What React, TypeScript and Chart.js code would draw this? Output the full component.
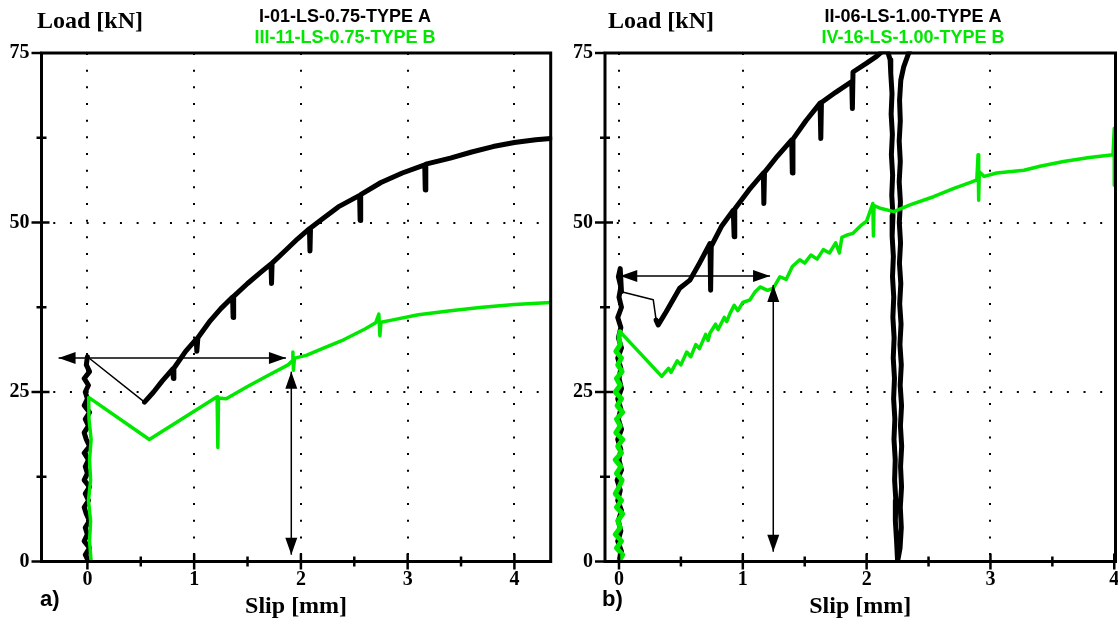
import React, { useEffect, useRef } from 'react';
import { Chart, registerables } from 'chart.js';

Chart.register(...registerables);

const GREEN = '#00e800';

// ---------- axes ----------
const xMajor = [0, 1, 2, 3, 4];
const xMinor = [0.5, 1.5, 2.5, 3.5];
const yMajor = [0, 25, 50, 75];
const yMinor = [12.5, 37.5, 62.5];
const xTickLabels = ['0', '1', '2', '3', '4'];
const yTickLabels = ['0', '25', '50', '75'];
const xTitle = 'Slip [mm]';
const yTitle = 'Load [kN]';

// ---------- panel a ----------
const aNames = ['I-01-LS-0.75-TYPE A', 'III-11-LS-0.75-TYPE B'];
const aBlackSlip = [
  0.01, -0.02, 0.02, -0.03, 0.0, -0.02, 0.02, -0.01, -0.03, 0.01, -0.02, 0.02, -0.03, 0.0, -0.02, 0.01,
  -0.03, 0.02, -0.01, -0.03, 0.01, -0.02, 0.02, -0.03, 0.0, -0.02, 0.01, -0.03, 0.02, -0.01, 0.0,
  0.535, 0.62, 0.7, 0.8, 0.805, 0.81, 0.92, 1.02, 1.025, 1.035, 1.15, 1.25, 1.36, 1.365, 1.37,
  1.5, 1.62, 1.72, 1.725, 1.73, 1.85, 1.97, 2.08, 2.085, 2.09, 2.2, 2.35, 2.55, 2.555, 2.56,
  2.75, 2.95, 3.16, 3.165, 3.17, 3.4, 3.6, 3.8, 4.0, 4.2, 4.34,
];
const aBlackLoad = [
  0, 1, 2, 3, 4, 5, 6, 7, 8, 9, 10, 11, 12, 13, 14, 15,
  16, 17, 18, 19, 20, 21, 22, 23, 24, 25, 26, 27, 28, 29, 30.2,
  23.5, 25.0, 26.6, 28.4, 27.0, 28.5, 31.0, 32.8, 31.0, 33.0, 35.5, 37.3, 39.0, 36.0, 39.1,
  41.0, 42.6, 43.9, 41.0, 44.0, 45.8, 47.6, 49.1, 45.8, 49.2, 50.5, 52.3, 54.0, 50.3, 54.1,
  55.9, 57.3, 58.5, 54.8, 58.6, 59.5, 60.4, 61.2, 61.8, 62.2, 62.4,
];
const aBlackThin = [30];
const aGreenSlip = [
  0.035, 0.02, 0.03, 0.01, 0.03, 0.02, 0.035, 0.015, 0.012,
  0.58, 1.215, 1.222, 1.228, 1.3, 1.5, 1.7, 1.88, 1.92, 1.925, 1.93, 1.94, 2.05,
  2.2, 2.4, 2.6, 2.7, 2.73, 2.74, 2.75, 2.85, 3.1, 3.4, 3.7, 4.0, 4.34,
];
const aGreenLoad = [
  0, 3, 6, 9, 12, 15, 18, 21, 24.2,
  18.0, 24.3, 16.8, 24.1, 24.0, 25.8, 27.5, 29.0, 29.6, 30.9, 28.2, 30.0, 30.4,
  31.4, 32.7, 34.3, 35.2, 36.5, 33.3, 35.3, 35.6, 36.4, 37.0, 37.5, 37.9, 38.2,
];
const aGreenThick: number[] = [];
const aArrows = [
  [-0.27, 30.0, 1.86, 30.0],
  [1.91, 28.0, 1.91, 1.0],
];

// ---------- panel b ----------
const bNames = ['II-06-LS-1.00-TYPE A', 'IV-16-LS-1.00-TYPE B'];
const bBlackSlip = [
  0.0, 0.02, -0.01, 0.015, -0.005, 0.02, -0.01, 0.01, -0.015, 0.02, 0.0, 0.015, -0.01, 0.02, -0.005,
  0.015, -0.01, 0.02, 0.0, 0.015, -0.01, 0.02, -0.005, 0.015, -0.01, 0.02, 0.0, 0.015, -0.005, 0.01, 0.02,
  0.277, 0.3, 0.317, 0.38, 0.49, 0.573, 0.65, 0.735, 0.74, 0.745, 0.83, 0.923, 0.93, 0.935,
  1.05, 1.166, 1.17, 1.175, 1.28, 1.395, 1.4, 1.405, 1.51, 1.624, 1.63, 1.635, 1.75, 1.88, 1.885, 1.89,
  2.0, 2.08, 2.16, 2.19,
  2.195, 2.205, 2.198, 2.208, 2.2, 2.21, 2.203, 2.213, 2.206, 2.216, 2.209, 2.219, 2.212, 2.222, 2.215,
  2.225, 2.218, 2.228, 2.221, 2.231, 2.226, 2.236, 2.232, 2.242, 2.25,
  2.27, 2.28, 2.272, 2.282, 2.274, 2.283, 2.273, 2.282, 2.271, 2.28, 2.269, 2.278, 2.267, 2.276, 2.265,
  2.274, 2.264, 2.273, 2.263, 2.272, 2.263, 2.272, 2.266, 2.276, 2.3, 2.33, 2.37,
];
const bBlackLoad = [
  0, 1.5, 3, 4.5, 6, 7.5, 9, 10.5, 12, 13.5, 15, 16.5, 18, 19.5, 21,
  22.5, 24, 25.5, 27, 28.5, 30, 31.5, 33, 34.5, 36, 37.5, 39, 40.5, 42, 43.2, 39.8,
  38.6, 35.6, 34.9, 36.8, 40.3, 41.5, 44.0, 46.9, 40.0, 46.5, 49.5, 51.8, 47.9, 52.0,
  54.8, 57.3, 52.8, 57.4, 59.8, 62.2, 57.3, 62.3, 65.0, 67.6, 62.4, 67.7, 69.2, 70.8, 66.8, 72.2,
  73.5, 74.5, 75.8, 74.0,
  72, 69, 66, 63, 60, 57, 54, 51, 48, 45, 42, 39, 36, 33, 30,
  27, 24, 21, 18, 15, 12, 9, 6, 3, 0,
  2, 5, 8, 11, 14, 17, 20, 23, 26, 29, 32, 35, 38, 41, 44,
  47, 50, 53, 56, 59, 62, 65, 68, 71, 73, 74.5, 76.5,
];
const bBlackThin = [30, 31];
const bGreenSlip = [
  0.0, 0.03, -0.02, 0.02, -0.03, 0.01, -0.01, 0.03, -0.02, 0.02, -0.03, 0.0, 0.025, -0.02, 0.015, -0.03, 0.02,
  -0.01, 0.03, -0.025, 0.01, -0.02, 0.03, -0.015, 0.02, -0.03, 0.01, -0.02, 0.025, -0.01, 0.02, -0.025, 0.01,
  0.0, 0.008,
  0.345, 0.4, 0.42, 0.47, 0.5, 0.547, 0.58, 0.62, 0.65, 0.7, 0.72, 0.735, 0.78, 0.8, 0.85, 0.87, 0.897,
  0.93, 0.96, 1.0, 1.058, 1.1, 1.14, 1.2, 1.246, 1.3, 1.35, 1.4, 1.46, 1.5, 1.55, 1.6, 1.65, 1.7, 1.75,
  1.78, 1.8, 1.85, 1.89, 1.95, 2.0, 2.05, 2.055, 2.06, 2.11, 2.22, 2.35, 2.54, 2.7, 2.85, 2.89, 2.9,
  2.905, 2.91, 2.95, 3.05, 3.27, 3.4, 3.59, 3.8, 3.99, 4.0, 4.0, 4.0,
];
const bGreenLoad = [
  0, 1, 2, 3, 4, 5, 6, 7, 8, 9, 10, 11, 12, 13, 14, 15, 16,
  17, 18, 19, 20, 21, 22, 23, 24, 25, 26, 27, 28, 29, 30, 31, 32,
  33, 33.9,
  27.3, 28.5, 27.9, 29.6, 29.0, 30.9, 30.2, 32.0, 31.4, 33.5, 32.6, 33.7, 35.0, 34.2, 36.0, 35.4, 36.6,
  37.8, 37.0, 38.2, 38.6, 39.8, 40.5, 40.0, 40.3, 42.0, 41.6, 43.5, 44.5, 44.0, 45.2, 44.6, 46.0, 45.5, 47.0,
  45.5, 47.8, 48.2, 48.4, 49.5, 50.2, 52.8, 48.0, 52.5, 52.1, 51.6, 52.6, 53.8, 55.0, 56.0, 56.3, 60.0,
  53.3, 57.5, 56.8, 57.3, 57.7, 58.3, 59.0, 59.6, 60.0, 63.9, 55.5, 60.0,
];
// segments of the green record drawn with the heavier (dense-sample) stroke
const bGreenThick = [
  0, 1, 2, 3, 4, 5, 6, 7, 8, 9, 10, 11, 12, 13, 14, 15, 16, 17, 18, 19, 20, 21, 22, 23, 24, 25, 26, 27, 28, 29, 30, 31, 32, 33,
];
const bArrows = [
  [0.01, 42.1, 1.22, 42.1],
  [1.246, 40.8, 1.246, 1.45],
];

function pts(xs: number[], ys: number[]) {
  return xs.map((x, i) => ({ x, y: ys[i] }));
}

interface PanelCfg {
  left: number;
  xMin: number;
  xMax: number;
  padRight: number;
  yAxisWidth: number;
  label: string;
  labelX: number;
  loadX: number;
  legendX: number;
  names: string[];
  black: { x: number; y: number }[];
  blackThin: number[];
  green: { x: number; y: number }[];
  greenThick: number[];
  greenWidth: number;
  arrows: number[][];
}

const panels: PanelCfg[] = [
  {
    left: 0, xMin: -0.43, xMax: 4.34, padRight: 8.3, yAxisWidth: 41.5,
    label: 'a)', labelX: 40, loadX: 37, legendX: 345, names: aNames,
    black: pts(aBlackSlip, aBlackLoad), blackThin: aBlackThin,
    green: pts(aGreenSlip, aGreenLoad), greenThick: aGreenThick, greenWidth: 3.5, arrows: aArrows,
  },
  {
    left: 559, xMin: -0.113, xMax: 4.01, padRight: 2.5, yAxisWidth: 46,
    label: 'b)', labelX: 43, loadX: 49, legendX: 354, names: bNames,
    black: pts(bBlackSlip, bBlackLoad), blackThin: bBlackThin,
    green: pts(bGreenSlip, bGreenLoad), greenThick: bGreenThick, greenWidth: 3.5, arrows: bArrows,
  },
];

function drawArrowHead(ctx: CanvasRenderingContext2D, x: number, y: number, ang: number) {
  const L = 17, W = 6;
  ctx.beginPath();
  ctx.moveTo(x, y);
  ctx.lineTo(x - L * Math.cos(ang) + W * Math.sin(ang), y - L * Math.sin(ang) - W * Math.cos(ang));
  ctx.lineTo(x - L * Math.cos(ang) - W * Math.sin(ang), y - L * Math.sin(ang) + W * Math.cos(ang));
  ctx.closePath();
  ctx.fill();
}

const decorPlugin = {
  id: 'decor',
  beforeDatasetsDraw(chart: any) {
    const ctx: CanvasRenderingContext2D = chart.ctx;
    const { left, right, top, bottom } = chart.chartArea;
    const xs = chart.scales.x, ys = chart.scales.y;
    ctx.save();
    ctx.strokeStyle = '#000';
    ctx.lineWidth = 2;
    ctx.setLineDash([2, 14.67]);
    xMajor.forEach((v) => {
      const px = Math.round(xs.getPixelForValue(v));
      if (px <= left + 3 || px >= right - 3) return;
      ctx.beginPath();
      ctx.moveTo(px, top);
      ctx.lineTo(px, bottom);
      ctx.stroke();
    });
    ctx.lineDashOffset = 4.9;
    yMajor.forEach((v) => {
      const py = Math.round(ys.getPixelForValue(v));
      if (py <= top + 3 || py >= bottom - 3) return;
      ctx.beginPath();
      ctx.moveTo(left, py);
      ctx.lineTo(right, py);
      ctx.stroke();
    });
    ctx.restore();
  },
  afterDatasetsDraw(chart: any) {
    const ctx: CanvasRenderingContext2D = chart.ctx;
    const { left, right, top, bottom } = chart.chartArea;
    const xs = chart.scales.x, ys = chart.scales.y;
    const cfg: PanelCfg = chart.options.plugins.decor.cfg;
    ctx.save();
    ctx.strokeStyle = '#000';
    ctx.fillStyle = '#000';
    ctx.lineWidth = 1.5;
    cfg.arrows.forEach(([x1, y1, x2, y2]) => {
      const p1x = xs.getPixelForValue(x1), p1y = ys.getPixelForValue(y1);
      const p2x = xs.getPixelForValue(x2), p2y = ys.getPixelForValue(y2);
      ctx.beginPath();
      ctx.moveTo(p1x, p1y);
      ctx.lineTo(p2x, p2y);
      ctx.stroke();
      const ang = Math.atan2(p2y - p1y, p2x - p1x);
      drawArrowHead(ctx, p2x, p2y, ang);
      drawArrowHead(ctx, p1x, p1y, ang + Math.PI);
    });
    ctx.lineWidth = 3;
    ctx.strokeRect(left, top, right - left, bottom - top);
    ctx.lineWidth = 2.5;
    xs.ticks.forEach((t: any) => {
      const px = xs.getPixelForValue(t.value);
      const len = xMajor.includes(t.value) ? 8 : 5;
      ctx.beginPath();
      ctx.moveTo(px, bottom - len);
      ctx.lineTo(px, bottom + len);
      ctx.stroke();
    });
    ys.ticks.forEach((t: any) => {
      const py = ys.getPixelForValue(t.value);
      const major = yMajor.includes(t.value);
      const outer = major ? 10 : 5;
      let inner = major ? 8 : 5;
      if (t.value === 0 || t.value === 75) inner = 0;
      ctx.beginPath();
      ctx.moveTo(left - outer, py);
      ctx.lineTo(left + inner, py);
      ctx.stroke();
    });
    ctx.restore();
  },
  afterDraw(chart: any) {
    const ctx: CanvasRenderingContext2D = chart.ctx;
    const cfg: PanelCfg = chart.options.plugins.decor.cfg;
    const ds = chart.data.datasets;
    ctx.save();
    ctx.textBaseline = 'middle';
    ctx.fillStyle = '#000';
    ctx.textAlign = 'left';
    ctx.font = 'bold 24px "Liberation Serif"';
    ctx.fillText(yTitle, cfg.loadX, 22);
    ctx.textAlign = 'center';
    ctx.font = 'bold 18px "Liberation Sans"';
    ctx.fillStyle = '#000';
    ctx.fillText(ds[0].label, cfg.legendX, 17);
    ctx.fillStyle = GREEN;
    ctx.fillText(ds[1].label, cfg.legendX, 38);
    ctx.fillStyle = '#000';
    ctx.textAlign = 'left';
    ctx.font = 'bold 22px "Liberation Sans"';
    ctx.fillText(cfg.label, cfg.labelX, 600);
    ctx.restore();
  },
};

function Panel({ cfg }: { cfg: PanelCfg }) {
  const ref = useRef<HTMLCanvasElement | null>(null);
  useEffect(() => {
    if (!ref.current) return;
    const chart = new Chart(ref.current, {
      type: 'line',
      data: {
        datasets: [
          {
            label: cfg.names[0],
            data: cfg.black,
            borderColor: '#000',
            borderWidth: 5,
            pointRadius: 0,
            tension: 0,
            order: 1,
            clip: 1.5,
            borderJoinStyle: 'round',
            borderCapStyle: 'round',
            segment: {
              borderWidth: (c: any) => (cfg.blackThin.includes(c.p0DataIndex) ? 1.5 : 5),
            },
          } as any,
          {
            label: cfg.names[1],
            data: cfg.green,
            borderColor: GREEN,
            borderWidth: cfg.greenWidth,
            pointRadius: 0,
            tension: 0,
            order: 0,
            clip: 1.5,
            borderJoinStyle: 'round',
            borderCapStyle: 'round',
            segment: {
              borderWidth: (c: any) => (cfg.greenThick.includes(c.p0DataIndex) ? 5 : cfg.greenWidth),
            },
          } as any,
        ],
      },
      options: {
        animation: false,
        responsive: false,
        maintainAspectRatio: false,
        devicePixelRatio: 1,
        parsing: false,
        events: [],
        layout: { padding: { top: 53, right: cfg.padRight, left: 0, bottom: 0 } },
        plugins: {
          legend: { display: false },
          tooltip: { enabled: false },
          title: { display: false },
          decor: { cfg },
        } as any,
        scales: {
          x: {
            type: 'linear',
            min: cfg.xMin,
            max: cfg.xMax,
            afterBuildTicks: (s: any) => {
              s.ticks = [...xMajor, ...xMinor].sort((p, q) => p - q).map((v) => ({ value: v }));
            },
            afterFit: (s: any) => {
              s.height = 63.5;
              s.paddingLeft = 0;
              s.paddingRight = 0;
            },
            grid: { display: false, drawTicks: false, tickLength: 0 },
            border: { display: false },
            ticks: {
              autoSkip: false,
              maxRotation: 0,
              padding: 6,
              color: '#000',
              font: { family: 'Liberation Serif', size: 20, weight: 'bold' },
              callback: (v: any) => {
                const i = xMajor.indexOf(Number(v));
                return i >= 0 ? xTickLabels[i] : '';
              },
            },
            title: {
              display: true,
              text: xTitle,
              color: '#000',
              font: { family: 'Liberation Serif', size: 24, weight: 'bold' },
              padding: { top: 0, bottom: 4 },
            },
          },
          y: {
            type: 'linear',
            min: 0,
            max: 75,
            afterBuildTicks: (s: any) => {
              s.ticks = [...yMajor, ...yMinor].sort((p, q) => p - q).map((v) => ({ value: v }));
            },
            afterFit: (s: any) => {
              s.width = cfg.yAxisWidth;
              s.paddingTop = 0;
              s.paddingBottom = 0;
            },
            grid: { display: false, drawTicks: false, tickLength: 0 },
            border: { display: false },
            ticks: {
              autoSkip: false,
              padding: 12,
              color: '#000',
              font: { family: 'Liberation Serif', size: 20, weight: 'bold' },
              callback: (v: any) => {
                const i = yMajor.indexOf(Number(v));
                return i >= 0 ? yTickLabels[i] : '';
              },
            },
          },
        },
      } as any,
      plugins: [decorPlugin as any],
    });
    return () => chart.destroy();
  }, [cfg]);
  return (
    <canvas
      ref={ref}
      width={559}
      height={625}
      style={{ position: 'absolute', left: cfg.left, top: 0, width: 559, height: 625 }}
    />
  );
}

export default function App() {
  return (
    <div
      style={{
        position: 'absolute',
        left: 0,
        top: 0,
        width: 1118,
        height: 625,
        background: '#fff',
        overflow: 'hidden',
      }}
    >
      {panels.map((p, i) => (
        <Panel key={i} cfg={p} />
      ))}
    </div>
  );
}
